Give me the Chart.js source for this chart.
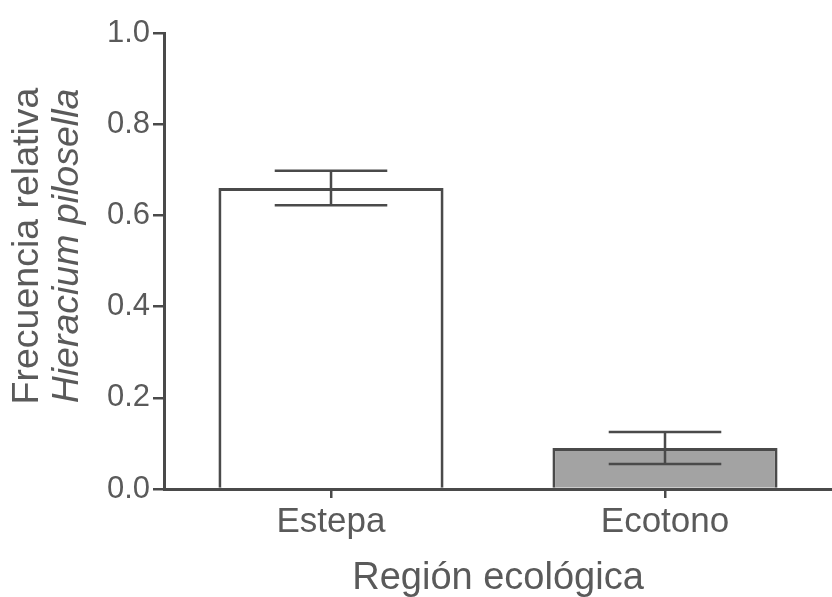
<!DOCTYPE html>
<html>
<head>
<meta charset="utf-8">
<script src="https://cdn.jsdelivr.net/npm/chart.js@4/dist/chart.umd.min.js"></script>
<style>
  html, body { margin: 0; padding: 0; background: #fff; overflow: hidden; }
  #wrap { width: 832px; height: 597px; position: relative; }
</style>
</head>
<body>
<div id="wrap"><canvas id="chart"></canvas></div>
<script>
// Relative frequency of Hieracium pilosella by ecological region (mean ± error)
const regions = ['Estepa', 'Ecotono'];
const meanFreq = [0.66, 0.09];
const errFreq = [0.038, 0.035];
const barFills = ['#ffffff', '#a3a3a3'];
const yTickValues = [0, 0.2, 0.4, 0.6, 0.8, 1.0];
const yTitleLines = ['Frecuencia relativa', 'Hieracium pilosella'];
const xTitle = 'Región ecológica';

const LINE = '#4a4a4a';
const TEXT = '#5a5a5a';
const FONT = '"Liberation Sans", Arial, Helvetica, sans-serif';

// Whiskers drawn over each bar from the value scale
const errorBars = {
  id: 'errorBars',
  afterDatasetsDraw(chart) {
    const meta = chart.getDatasetMeta(0);
    const y = chart.scales.y;
    const ctx = chart.ctx;
    ctx.save();
    ctx.strokeStyle = LINE;
    ctx.lineWidth = 2.5;
    meta.data.forEach((bar, i) => {
      const top = y.getPixelForValue(meanFreq[i] + errFreq[i]);
      const bot = y.getPixelForValue(meanFreq[i] - errFreq[i]);
      const half = bar.width * 0.25;
      ctx.beginPath();
      ctx.moveTo(bar.x, top); ctx.lineTo(bar.x, bot);
      ctx.moveTo(bar.x - half, top); ctx.lineTo(bar.x + half, top);
      ctx.moveTo(bar.x - half, bot); ctx.lineTo(bar.x + half, bot);
      ctx.stroke();
    });
    ctx.restore();
  }
};

// Two-line vertical axis title, second line (species name) in italics
const yTitle = {
  id: 'yTitle',
  afterDraw(chart) {
    const ctx = chart.ctx;
    const area = chart.chartArea;
    const cy = (area.top + area.bottom) / 2 - 15;
    ctx.save();
    ctx.fillStyle = TEXT;
    ctx.textAlign = 'center';
    ctx.textBaseline = 'middle';
    ctx.translate(0, cy);
    ctx.rotate(-Math.PI / 2);
    ctx.font = '37.5px ' + FONT;
    ctx.fillText(yTitleLines[0], 0, 28);
    ctx.font = 'italic 37.5px ' + FONT;
    ctx.fillText(yTitleLines[1], 0, 68);
    ctx.restore();
  }
};

new Chart(document.getElementById('chart'), {
  type: 'bar',
  data: {
    labels: regions,
    datasets: [{
      data: meanFreq,
      backgroundColor: barFills,
      borderColor: LINE,
      borderWidth: 3,
      borderSkipped: 'bottom',
      categoryPercentage: 1,
      barPercentage: 0.674
    }]
  },
  options: {
    responsive: true,
    maintainAspectRatio: false,
    animation: false,
    layout: { padding: { top: 33, right: 0, bottom: 0, left: 0 } },
    plugins: { legend: { display: false }, tooltip: { enabled: false } },
    scales: {
      x: {
        offset: true,
        grid: { offset: false, drawOnChartArea: false, drawTicks: true, tickLength: 9, color: LINE, lineWidth: 2.5 },
        border: { display: true, color: LINE, width: 3 },
        ticks: { color: TEXT, font: { family: FONT, size: 35 }, padding: 3 },
        title: { display: true, text: xTitle, color: TEXT, font: { family: FONT, size: 38, lineHeight: 0.95 }, padding: { top: 0, bottom: 0 } },
        afterFit(scale) { scale.height = 108; }
      },
      y: {
        min: 0,
        max: 1,
        afterBuildTicks(scale) { scale.ticks = yTickValues.map(v => ({ value: v })); },
        grid: { drawOnChartArea: false, drawTicks: true, tickLength: 11, color: LINE, lineWidth: 2.5 },
        border: { display: true, color: LINE, width: 3 },
        ticks: { color: TEXT, font: { family: FONT, size: 31 }, padding: 3, callback: v => Number(v).toFixed(1) },
        afterFit(scale) { scale.width = 164; }
      }
    }
  },
  plugins: [errorBars, yTitle]
});
</script>
</body>
</html>
